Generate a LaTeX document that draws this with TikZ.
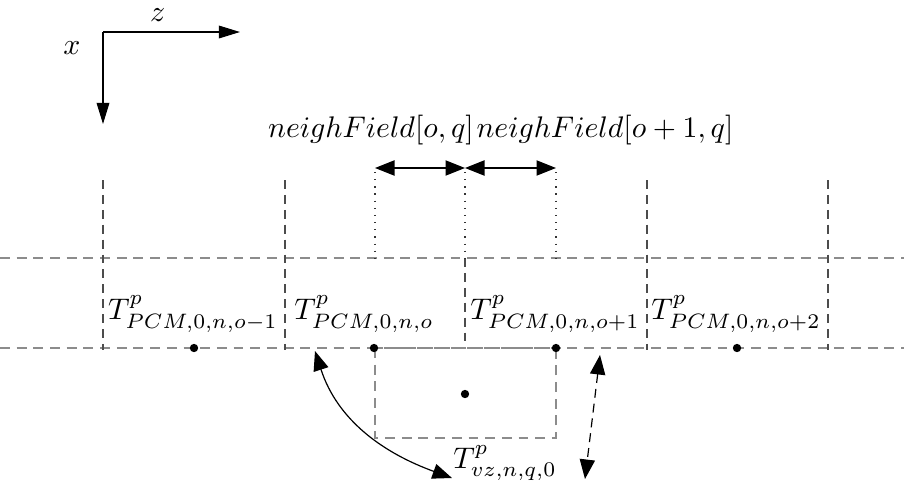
\documentclass[tikz,border=0pt]{standalone}
\usepackage{amsmath,amssymb}
\usetikzlibrary{positioning,arrows.meta}
\begin{document}
\begin{tikzpicture}[x=0.0118cm,y=-0.0118cm,>={Triangle[length=2.3mm,width=1.8mm]},
  grid/.style={black!45,dash pattern=on 3.3pt off 2.3pt},
  wall/.style={black!70,dash pattern=on 3pt off 2pt},
  dot/.style={circle,fill,inner sep=0pt,minimum size=2.8pt}]
\useasboundingbox (0,0) rectangle (904,491);
% axes
\coordinate (O) at (103,32);
\coordinate (Z) at (240,32);
\coordinate (X) at (103,124);
\draw[-{Triangle[length=2.5mm,width=1.5mm]}] (O) -- (Z) node[pos=0.4,above]{$z$};
\draw[-{Triangle[length=2.5mm,width=1.5mm]}] (O) -- (X);
\node (xl) at (72,48) {$x$};
% cells
\draw[grid] (0,258) -- (904,258);
\draw[grid] (0,348) -- (904,348);
\foreach \c in {103,285,647,828}
  \draw[wall] (\c,180) -- (\c,350);
\draw[wall] (465,258) -- (465,348);
\foreach \c in {375,465,556}
  \draw[dotted,black!80] (\c,172) -- (\c,258);
\draw[grid] (375,348) rectangle (556,438);
% neighbour fields
\coordinate (a1) at (375,168);
\coordinate (a2) at (465,168);
\coordinate (a3) at (556,168);
\draw[<->] (a1) -- (a2);
\draw[<->] (a2) -- (a3);
\node (nf1) at (371,130) {$neighField[o,q]$};
\node (nf2) at (605,130) {$neighField[o+1,q]$};
% temperatures
\node (t1) at (193,314) {$T^p_{PCM,0,n,o-1}$};
\node (t2) at (364,314) {$T^p_{PCM,0,n,o}$};
\node (t3) at (555,314) {$T^p_{PCM,0,n,o+1}$};
\node (t4) at (736,314) {$T^p_{PCM,0,n,o+2}$};
\foreach \c/\n in {194/d1,374/d2,556/d3,737/d4}
  \node[dot] (\n) at (\c,348) {};
\node[dot] (d5) at (465,394) {};
\node (vz) at (505,463) {$T^p_{vz,n,q,0}$};
% links
\coordinate (c1) at (315,351);
\coordinate (c2) at (452,478);
\draw[<->] (c1) to[out=-72,in=160] (c2);
\coordinate (e1) at (600,355);
\coordinate (e2) at (585,479);
\draw[<->,dash pattern=on 3pt off 2pt] (e1) -- (e2);
\end{tikzpicture}
\end{document}
